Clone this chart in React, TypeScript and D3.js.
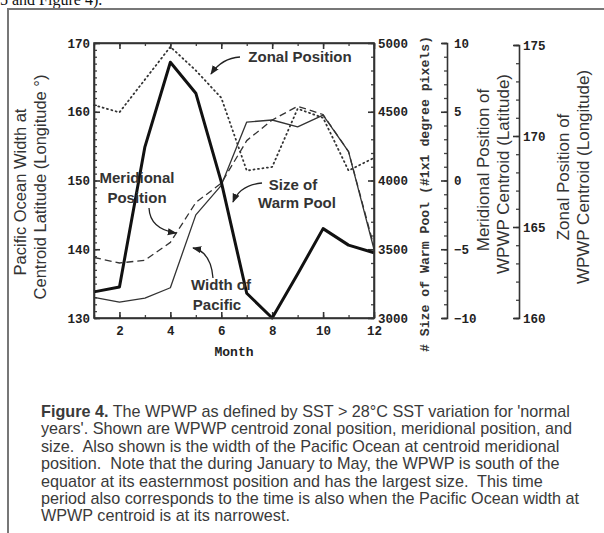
import { useEffect, useRef } from 'react';
import * as d3 from 'd3';

// monthly climatology
const months = [1, 2, 3, 4, 5, 6, 7, 8, 9, 10, 11, 12];
const warmPoolSize = [3190, 3225, 4245, 4860, 4635, 3990, 3180, 3000, 3320, 3650, 3530, 3475];
const pacificWidth = [133.0, 132.3, 132.9, 134.4, 145.0, 149.3, 158.5, 158.8, 157.8, 159.5, 154.2, 140.0];
const meridionalPos = [-5.6, -6.0, -5.8, -4.5, -1.6, -0.2, 2.9, 4.4, 5.4, 4.8, 2.1, -4.8];
const zonalPos = [171.7, 171.3, 173.1, 174.9, 173.6, 172.1, 168.1, 168.3, 171.5, 171.0, 168.1, 168.8];

const monthTicks = [2, 4, 6, 8, 10, 12];
const widthTicks = [130, 140, 150, 160, 170];
const sizeTicks = [3000, 3500, 4000, 4500, 5000];
const meridionalTicks = [-10, -5, 0, 5, 10];
const zonalTicks = [160, 165, 170, 175];

const captionLines = [
  "years'. Shown are WPWP centroid zonal position, meridional position, and",
  'size.  Also shown is the width of the Pacific Ocean at centroid meridional',
  'position.  Note that the during January to May, the WPWP is south of the',
  'equator at its easternmost position and has the largest size.  This time',
  'period also corresponds to the time is also when the Pacific Ocean width at',
  'WPWP centroid is at its narrowest.',
];

const W = 604;
const H = 533;
const plot = { left: 94, right: 374, top: 43, bottom: 318 };
const tickFont = '"Liberation Mono", monospace';
const sansFont = '"Liberation Sans", Arial, sans-serif';

const App = () => {
  const gRef = useRef<SVGGElement>(null);

  useEffect(() => {
    const g = d3.select(gRef.current);
    g.selectAll('*').remove();

    const x = d3.scaleLinear().domain([1, 12]).range([plot.left, plot.right]);
    const yWidth = d3.scaleLinear().domain([130, 170]).range([plot.bottom, plot.top]);
    const ySize = d3.scaleLinear().domain([3000, 5000]).range([plot.bottom, plot.top]);
    const yMer = d3.scaleLinear().domain([-10, 10]).range([plot.bottom, plot.top]);
    const yZon = d3.scaleLinear().domain([160, 175]).range([plot.bottom, 45]);
    const fmt = d3.format('d');

    const styleAxis = (sel: any, showLabels = true) => {
      sel.selectAll('path.domain').attr('stroke', '#333').attr('stroke-width', 1.6);
      sel.selectAll('line').attr('stroke', '#333').attr('stroke-width', 1.6);
      sel.selectAll('text')
        .attr('font-family', tickFont)
        .attr('font-weight', 'bold')
        .attr('font-size', 12.5)
        .attr('fill', '#222')
        .style('display', showLabels ? null : 'none');
    };

    // minor ticks first
    const minor = (axis: any, tx: number, ty: number) => {
      const a = g.append('g').attr('transform', `translate(${tx},${ty})`).call(axis);
      a.selectAll('path.domain').remove();
      a.selectAll('text').remove();
      a.selectAll('line').attr('stroke', '#444').attr('stroke-width', 1.3);
    };
    minor(d3.axisBottom(x).tickValues(months).tickSize(-3), 0, plot.bottom);
    minor(d3.axisTop(x).tickValues(months).tickSize(-3), 0, plot.top);
    minor(d3.axisLeft(yWidth).tickValues(d3.range(130, 171, 1)).tickSize(-3), plot.left, 0);
    minor(d3.axisRight(ySize).tickValues(d3.range(3000, 5001, 100)).tickSize(-3), plot.right, 0);
    minor(d3.axisRight(yMer).tickValues(d3.range(-10, 11, 1)).tickSize(-3), 447, 0);
    minor(d3.axisRight(yZon).tickValues(d3.range(160, 176, 1)).tickSize(-3), 519, 0);

    g.append('g')
      .attr('transform', `translate(0,${plot.bottom})`)
      .call(d3.axisBottom(x).tickValues(monthTicks).tickFormat(fmt).tickSize(-6).tickSizeOuter(0).tickPadding(8))
      .call(styleAxis);
    g.append('g')
      .attr('transform', `translate(0,${plot.top})`)
      .call(d3.axisTop(x).tickValues(monthTicks).tickSize(-6).tickSizeOuter(0))
      .call((s: any) => styleAxis(s, false));
    g.append('g')
      .attr('transform', `translate(${plot.left},0)`)
      .call(d3.axisLeft(yWidth).tickValues(widthTicks).tickFormat(fmt).tickSize(-6).tickSizeOuter(0).tickPadding(4))
      .call(styleAxis);
    g.append('g')
      .attr('transform', `translate(${plot.right},0)`)
      .call(d3.axisRight(ySize).tickValues(sizeTicks).tickFormat(fmt).tickSize(-6).tickSizeOuter(0).tickPadding(4))
      .call(styleAxis);
    g.append('g')
      .attr('transform', 'translate(447,0)')
      .call(d3.axisRight(yMer).tickValues(meridionalTicks).tickFormat(fmt).tickSize(-6).tickSizeOuter(-5).tickPadding(7))
      .call(styleAxis);
    g.append('g')
      .attr('transform', 'translate(519,0)')
      .call(d3.axisRight(yZon).tickValues(zonalTicks).tickFormat(fmt).tickSize(-6).tickSizeOuter(-5).tickPadding(4))
      .call(styleAxis);

    const lines = g.append('g');

    const drawLine = (vals: number[], y: any, width: number, dash: string | null, color: string) => {
      const line = d3.line<number>()
        .x((_, i) => x(months[i]))
        .y(v => y(v));
      lines.append('path')
        .attr('d', line(vals))
        .attr('fill', 'none')
        .attr('stroke', color)
        .attr('stroke-width', width)
        .attr('stroke-linejoin', 'round')
        .attr('stroke-linecap', dash === '1,3.5' ? 'round' : 'butt')
        .attr('stroke-dasharray', dash);
    };

    drawLine(zonalPos, yZon, 1.8, '1,3.5', '#333');
    drawLine(meridionalPos, yMer, 1.3, '7,4', '#333');
    drawLine(pacificWidth, yWidth, 1.3, null, '#333');
    drawLine(warmPoolSize, ySize, 3, null, '#111');

    // plot frame
    g.append('rect')
      .attr('x', plot.left).attr('y', plot.top)
      .attr('width', plot.right - plot.left).attr('height', plot.bottom - plot.top)
      .attr('fill', 'none').attr('stroke', '#333').attr('stroke-width', 1.6);
  }, []);

  const arrow = 'url(#arrowHead)';
  const annStyle = { fontFamily: sansFont, fontWeight: 'bold' as const, fontSize: 15, fill: '#333' };
  const axisTitle = { fontFamily: sansFont, fill: '#333', textAnchor: 'middle' as const };

  return (
    <svg width={W} height={H} style={{ position: 'absolute', left: 0, top: 0, background: '#fff' }}>
      <defs>
        <marker id="arrowHead" viewBox="0 0 10 10" refX="9" refY="5" markerWidth="7" markerHeight="7" orient="auto">
          <path d="M0,1 L10,5 L0,9 Z" fill="#222" />
        </marker>
      </defs>

      <text x={0} y={5} fontFamily='"Liberation Serif", serif' fontSize={16} fill="#111">5 and Figure 4).</text>

      {/* page frame */}
      <path d={`M8,${H} V9 H${W}`} fill="none" stroke="#777" strokeWidth={2} />

      <g ref={gRef} />

      {/* left axis title */}
      <text transform="translate(26,192) rotate(-90)" fontSize={16.5} {...axisTitle}>
        Pacific Ocean Width at
      </text>
      <text transform="translate(46,187) rotate(-90)" fontSize={16.5} {...axisTitle}>
        Centroid Latitude (Longitude °)
      </text>

      <text x={234} y={356} textAnchor="middle" fontFamily={tickFont} fontWeight="bold" fontSize={13} fill="#222">Month</text>

      {/* warm pool size title */}
      <text transform="translate(429,194) rotate(-90)" textAnchor="middle" fontFamily={tickFont} fontWeight="bold" fontSize={12.5} fill="#333"
        textLength={316} lengthAdjust="spacingAndGlyphs">
        # Size of Warm Pool (#1x1 degree pixels)
      </text>

      <text transform="translate(489,170) rotate(-90)" fontSize={17} {...axisTitle}>
        Meridional Position of
      </text>
      <text transform="translate(509,174) rotate(-90)" fontSize={17} {...axisTitle}>
        WPWP Centroid (Latitude)
      </text>
      <text transform="translate(569,177) rotate(-90)" fontSize={17} {...axisTitle}>
        Zonal Position of
      </text>
      <text transform="translate(589,177) rotate(-90)" fontSize={17} {...axisTitle}>
        WPWP Centroid (Longitude)
      </text>

      {/* annotations */}
      <text x={300} y={62} textAnchor="middle" {...annStyle}>Zonal Position</text>
      <path d="M240,57 Q222,58 211,74" fill="none" stroke="#222" strokeWidth={1.3} markerEnd={arrow} />

      <text x={137} y={183} textAnchor="middle" {...annStyle}>Meridional</text>
      <text x={137} y={203} textAnchor="middle" {...annStyle}>Position</text>
      <path d="M149,208 Q150,229 176,233" fill="none" stroke="#222" strokeWidth={1.3} markerEnd={arrow} />

      <text x={293} y={190} textAnchor="middle" {...annStyle}>Size of</text>
      <text x={297} y={208} textAnchor="middle" {...annStyle}>Warm Pool</text>
      <path d="M262,183 Q240,185 233,202" fill="none" stroke="#222" strokeWidth={1.3} markerEnd={arrow} />

      <text x={221} y={290} textAnchor="middle" {...annStyle}>Width of</text>
      <text x={217} y={310} textAnchor="middle" {...annStyle}>Pacific</text>
      <path d="M213,278 Q211,252 193,248" fill="none" stroke="#222" strokeWidth={1.3} markerEnd={arrow} />

      {/* caption */}
      <text x={41} y={417} fontFamily={sansFont} fontSize={16.2} fill="#3a3a3a">
        <tspan fontWeight="bold">Figure 4.</tspan>
        <tspan> The WPWP as defined by SST &gt; 28°C SST variation for 'normal</tspan>
      </text>
      {captionLines.map((t, i) => (
        <text key={i} x={41} y={417 + (i + 1) * 17.4} fontFamily={sansFont} fontSize={16.2} fill="#3a3a3a" xmlSpace="preserve">
          {t}
        </text>
      ))}
    </svg>
  );
};

export default App;
